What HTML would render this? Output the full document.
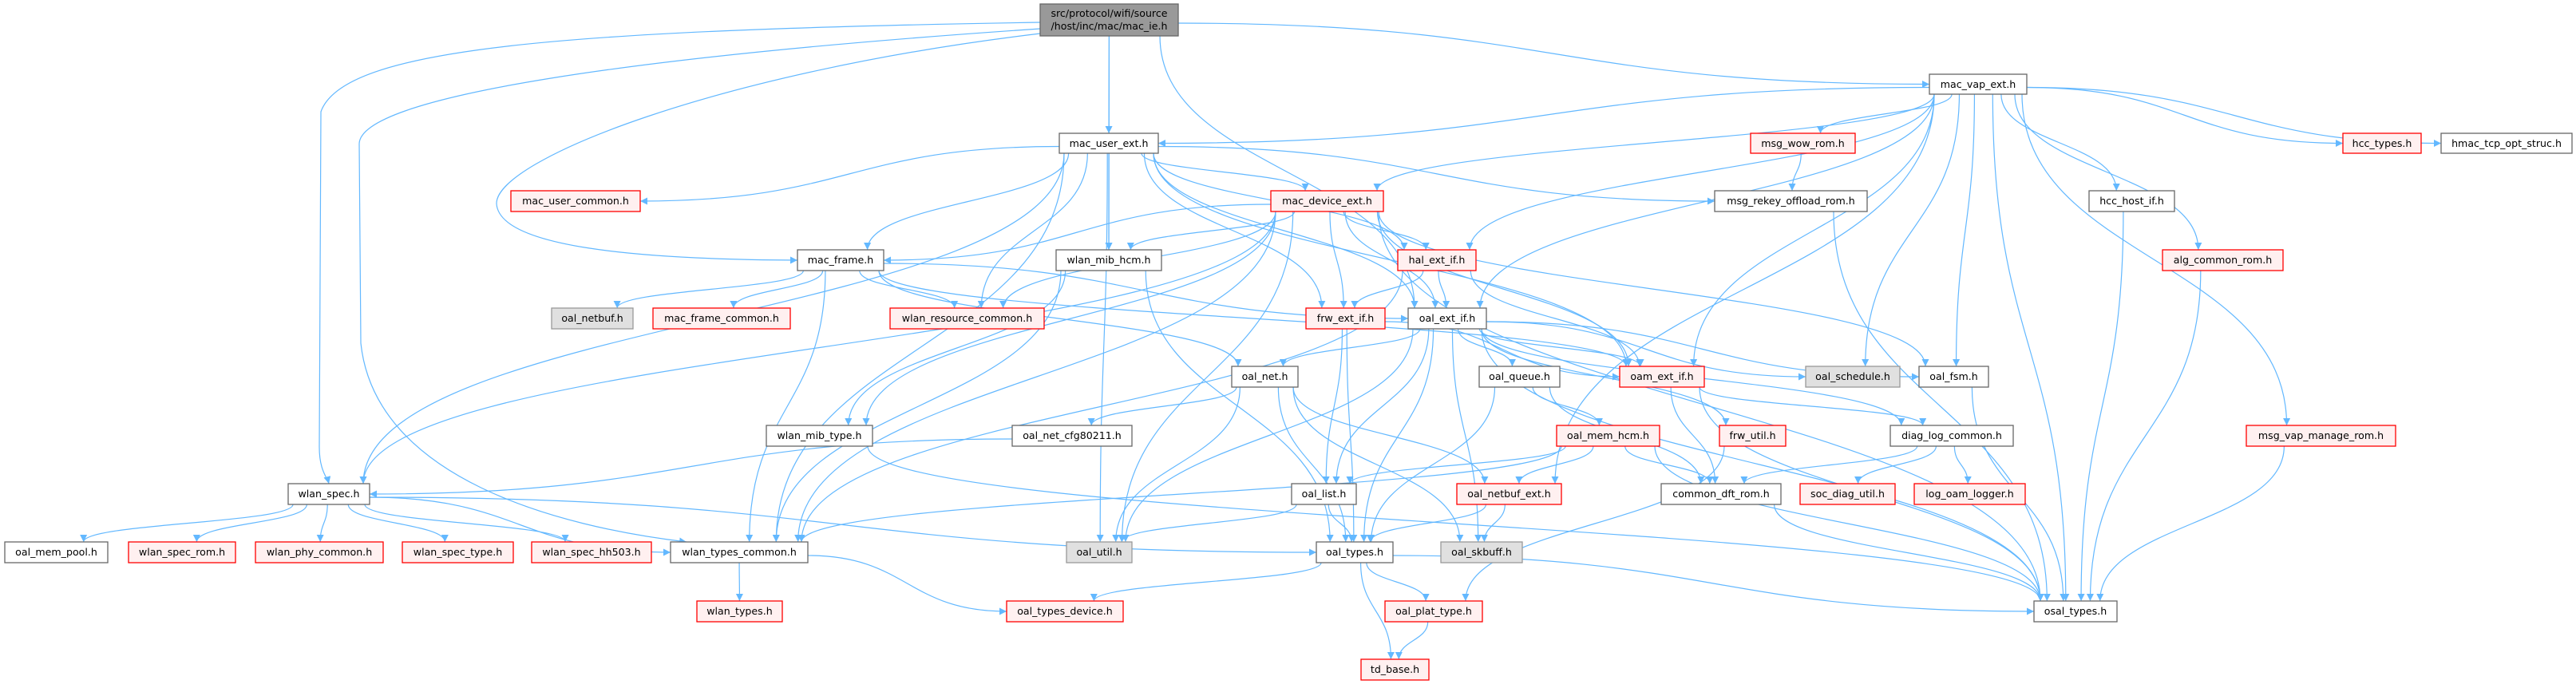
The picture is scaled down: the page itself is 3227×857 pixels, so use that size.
<!DOCTYPE html>
<html><head><meta charset="utf-8">
<style>
html,body{margin:0;padding:0;background:#fff;width:3227px;height:857px;overflow:hidden}
svg{display:block}
text{font-family:"DejaVu Sans","Liberation Sans",sans-serif;font-size:12.6px;fill:#000;text-anchor:middle}
.n rect{fill:#fff;stroke:#666;stroke-width:1.3}
.r rect{fill:#fff0f0;stroke:#f00;stroke-width:1.3}
.g rect{fill:#e0e0e0;stroke:#999;stroke-width:1.3}
.m rect{fill:#999;stroke:#666;stroke-width:1.3}
#edges path{fill:none;stroke:#63b8ff;stroke-width:1.2}
</style></head><body>
<svg id="s" width="3227" height="857" viewBox="0 0 3227 857" xmlns="http://www.w3.org/2000/svg">
<defs><marker id="a" viewBox="0 0 10 10" refX="10" refY="5" markerWidth="9" markerHeight="9" markerUnits="userSpaceOnUse" orient="auto"><path d="M0,0 L10,5 L0,10 z" fill="#63b8ff"/></marker></defs>
<g id="edges">
<path d="M1303,28 C700,38 430,60 402,140 L400,560 C400,590 410,598 412,606" marker-end="url(#a)"/>
<path d="M1303,36 C800,70 452,120 450,180 L452,430 C470,600 700,660 860,679" marker-end="url(#a)"/>
<path d="M1303,42 C900,90 622,200 622,255 C625,310 800,325 999,326" marker-end="url(#a)"/>
</g>
<g id="nodes">
<g class="m"><rect x="1303" y="5" width="173" height="40"/><text x="1389.5" y="21">src/protocol/wifi/source</text><text x="1389.5" y="37">/host/inc/mac/mac_ie.h</text></g>
<g class="n"><rect x="2417" y="93" width="122" height="25"/><text x="2478" y="110">mac_vap_ext.h</text></g>
<g class="n"><rect x="1327" y="167" width="124" height="25"/><text x="1389" y="184">mac_user_ext.h</text></g>
<g class="r"><rect x="2193" y="167" width="131" height="25"/><text x="2258.5" y="184">msg_wow_rom.h</text></g>
<g class="r"><rect x="2935" y="167" width="98" height="25"/><text x="2984" y="184">hcc_types.h</text></g>
<g class="n"><rect x="3058" y="167" width="164" height="25"/><text x="3140" y="184">hmac_tcp_opt_struc.h</text></g>
<g class="r"><rect x="640" y="239" width="162" height="26"/><text x="721" y="256">mac_user_common.h</text></g>
<g class="r"><rect x="1592" y="239" width="141" height="26"/><text x="1662.5" y="256">mac_device_ext.h</text></g>
<g class="n"><rect x="2148" y="239" width="191" height="26"/><text x="2243.5" y="256">msg_rekey_offload_rom.h</text></g>
<g class="n"><rect x="2617" y="239" width="107" height="26"/><text x="2670.5" y="256">hcc_host_if.h</text></g>
<g class="n"><rect x="999" y="313" width="108" height="26"/><text x="1053" y="330">mac_frame.h</text></g>
<g class="n"><rect x="1323" y="313" width="132" height="26"/><text x="1389" y="330">wlan_mib_hcm.h</text></g>
<g class="r"><rect x="1751" y="313" width="98" height="26"/><text x="1800" y="330">hal_ext_if.h</text></g>
<g class="r"><rect x="2709" y="313" width="151" height="26"/><text x="2784.5" y="330">alg_common_rom.h</text></g>
<g class="g"><rect x="691" y="386" width="102" height="26"/><text x="742" y="403">oal_netbuf.h</text></g>
<g class="r"><rect x="818" y="386" width="172" height="26"/><text x="904" y="403">mac_frame_common.h</text></g>
<g class="r"><rect x="1115" y="386" width="193" height="26"/><text x="1211.5" y="403">wlan_resource_common.h</text></g>
<g class="r"><rect x="1636" y="386" width="99" height="26"/><text x="1685.5" y="403">frw_ext_if.h</text></g>
<g class="n"><rect x="1764" y="386" width="98" height="26"/><text x="1813" y="403">oal_ext_if.h</text></g>
<g class="n"><rect x="1543" y="459" width="83" height="26"/><text x="1584.5" y="476">oal_net.h</text></g>
<g class="n"><rect x="1853" y="459" width="101" height="26"/><text x="1903.5" y="476">oal_queue.h</text></g>
<g class="r"><rect x="2029" y="459" width="106" height="26"/><text x="2082" y="476">oam_ext_if.h</text></g>
<g class="g"><rect x="2262" y="459" width="118" height="26"/><text x="2321" y="476">oal_schedule.h</text></g>
<g class="n"><rect x="2404" y="459" width="87" height="26"/><text x="2447.5" y="476">oal_fsm.h</text></g>
<g class="n"><rect x="960" y="533" width="133" height="26"/><text x="1026.5" y="550">wlan_mib_type.h</text></g>
<g class="n"><rect x="1268" y="533" width="150" height="26"/><text x="1343" y="550">oal_net_cfg80211.h</text></g>
<g class="r"><rect x="1950" y="533" width="129" height="26"/><text x="2014.5" y="550">oal_mem_hcm.h</text></g>
<g class="r"><rect x="2154" y="533" width="83" height="26"/><text x="2195.5" y="550">frw_util.h</text></g>
<g class="n"><rect x="2368" y="533" width="154" height="26"/><text x="2445" y="550">diag_log_common.h</text></g>
<g class="r"><rect x="2814" y="533" width="187" height="26"/><text x="2907.5" y="550">msg_vap_manage_rom.h</text></g>
<g class="n"><rect x="361" y="606" width="102" height="26"/><text x="412" y="623">wlan_spec.h</text></g>
<g class="n"><rect x="1618" y="606" width="81" height="26"/><text x="1658.5" y="623">oal_list.h</text></g>
<g class="r"><rect x="1825" y="606" width="131" height="26"/><text x="1890.5" y="623">oal_netbuf_ext.h</text></g>
<g class="n"><rect x="2081" y="606" width="150" height="26"/><text x="2156" y="623">common_dft_rom.h</text></g>
<g class="r"><rect x="2255" y="606" width="119" height="26"/><text x="2314.5" y="623">soc_diag_util.h</text></g>
<g class="r"><rect x="2398" y="606" width="139" height="26"/><text x="2467.5" y="623">log_oam_logger.h</text></g>
<g class="n"><rect x="6" y="679" width="129" height="26"/><text x="70.5" y="696">oal_mem_pool.h</text></g>
<g class="r"><rect x="161" y="679" width="134" height="26"/><text x="228" y="696">wlan_spec_rom.h</text></g>
<g class="r"><rect x="320" y="679" width="160" height="26"/><text x="400" y="696">wlan_phy_common.h</text></g>
<g class="r"><rect x="504" y="679" width="139" height="26"/><text x="573.5" y="696">wlan_spec_type.h</text></g>
<g class="r"><rect x="666" y="679" width="150" height="26"/><text x="741" y="696">wlan_spec_hh503.h</text></g>
<g class="n"><rect x="840" y="679" width="172" height="26"/><text x="926" y="696">wlan_types_common.h</text></g>
<g class="g"><rect x="1336" y="679" width="82" height="26"/><text x="1377" y="696">oal_util.h</text></g>
<g class="n"><rect x="1649" y="679" width="96" height="26"/><text x="1697" y="696">oal_types.h</text></g>
<g class="g"><rect x="1805" y="679" width="102" height="26"/><text x="1856" y="696">oal_skbuff.h</text></g>
<g class="r"><rect x="873" y="753" width="107" height="26"/><text x="926.5" y="770">wlan_types.h</text></g>
<g class="r"><rect x="1261" y="753" width="146" height="26"/><text x="1334" y="770">oal_types_device.h</text></g>
<g class="r"><rect x="1735" y="753" width="122" height="26"/><text x="1796" y="770">oal_plat_type.h</text></g>
<g class="n"><rect x="2548" y="753" width="104" height="26"/><text x="2600" y="770">osal_types.h</text></g>
<g class="r"><rect x="1705" y="826" width="85" height="26"/><text x="1747.5" y="843">td_base.h</text></g>
</g>
</svg>
<script>
var N={
ie:[1303,1476,5,45],vap:[2417,2539,93,118],user:[1327,1451,167,192],wow:[2193,2324,167,192],hcct:[2935,3033,167,192],hmac:[3058,3222,167,192],
ucom:[640,802,239,265],dev:[1592,1733,239,265],rekey:[2148,2339,239,265],hccif:[2617,2724,239,265],
frame:[999,1107,313,339],mibh:[1323,1455,313,339],hal:[1751,1849,313,339],alg:[2709,2860,313,339],
netbuf:[691,793,386,412],mfc:[818,990,386,412],wrc:[1115,1308,386,412],frw:[1636,1735,386,412],oal:[1764,1862,386,412],
net:[1543,1626,459,485],queue:[1853,1954,459,485],oam:[2029,2135,459,485],sched:[2262,2380,459,485],fsm:[2404,2491,459,485],
mibt:[960,1093,533,559],cfg:[1268,1418,533,559],memh:[1950,2079,533,559],frwu:[2154,2237,533,559],diag:[2368,2522,533,559],vapm:[2814,3001,533,559],
spec:[361,463,606,632],list:[1618,1699,606,632],nbext:[1825,1956,606,632],dft:[2081,2231,606,632],soc:[2255,2374,606,632],log:[2398,2537,606,632],
pool:[6,135,679,705],srom:[161,295,679,705],phy:[320,480,679,705],stype:[504,643,679,705],hh:[666,816,679,705],wtc:[840,1012,679,705],
util:[1336,1418,679,705],otypes:[1649,1745,679,705],skb:[1805,1907,679,705],
wtypes:[873,980,753,779],tdev:[1261,1407,753,779],plat:[1735,1857,753,779],osal:[2548,2652,753,779],td:[1705,1790,826,852]};
var E="ie vap,ie user,ie mibh,ie oal,"+
"user ucom,user frame,user spec,user wtc,user util,user wrc,user mibh,user dev,user frw,user hal,user oal,user rekey,user oam,"+
"vap user,vap dev,vap hal,vap oal,vap wow,vap hcct,vap hmac,vap hccif,vap alg,vap vapm,vap oam,vap sched,vap fsm,vap nbext,vap osal,"+
"dev frame,dev wrc,dev mibh,dev hal,dev frw,dev oal,dev oam,dev spec,dev wtc,dev mibt,dev fsm,dev osal,dev util,"+
"frame netbuf,frame mfc,frame wrc,frame oal,frame oam,frame wtc,frame net,"+
"mibh wtc,mibh otypes,mibh mibt,hal frw,hal oal,hal oam,hal wtc,frw list,frw otypes,frw oam,"+
"oal net,oal queue,oal oam,oal sched,oal fsm,oal diag,oal list,oal otypes,oal util,oal frwu,oal osal,oal skb,"+
"net cfg,net util,net otypes,net nbext,net skb,cfg spec,queue memh,queue otypes,queue dft,oam diag,oam dft,oam osal,"+
"memh list,memh nbext,memh dft,memh wtc,memh osal,frwu plat,diag dft,diag soc,diag log,list util,list otypes,nbext otypes,nbext skb,dft osal,"+
"spec pool,spec srom,spec phy,spec stype,spec hh,spec wtc,spec otypes,wtc wtypes,wtc tdev,mibt osal,otypes tdev,otypes plat,otypes td,otypes osal,plat td,"+
"wow rekey,rekey osal,hccif osal,alg osal,vapm osal,fsm osal";
var g=document.getElementById('edges'),ns="http://www.w3.org/2000/svg";
function cl(v,a,b){return Math.max(a,Math.min(b,v));}
E.split(',').forEach(function(p){var q=p.split(' '),s=N[q[0]],t=N[q[1]];
var sc=(s[0]+s[1])/2,tc=(t[0]+t[1])/2;
var sx=cl(sc+(tc-sc)*0.15,s[0]+6,s[1]-6),tx=cl(tc+(sc-tc)*0.1,t[0]+8,t[1]-8);
var sy=s[3],ty=t[2];var m=(sy+ty)/2;
var d;
if(ty-sy<80&&Math.abs(tx-sx)>300){
 var side=tc>sc?t[0]:t[1];var yy=(t[2]+t[3])/2;var sx2=tc>sc?s[1]:s[0];var sy2=(s[2]+s[3])/2+4;
 d="M"+sx2+","+sy2+" C"+(sx2+side)/2+","+sy2+" "+(sx2+side)/2+","+yy+" "+side+","+yy;
}else d="M"+sx+","+sy+" C"+sx+","+m+" "+tx+","+m+" "+tx+","+ty;
var e=document.createElementNS(ns,'path');e.setAttribute('d',d);e.setAttribute('marker-end','url(#a)');g.appendChild(e);});
</script>
</body></html>
